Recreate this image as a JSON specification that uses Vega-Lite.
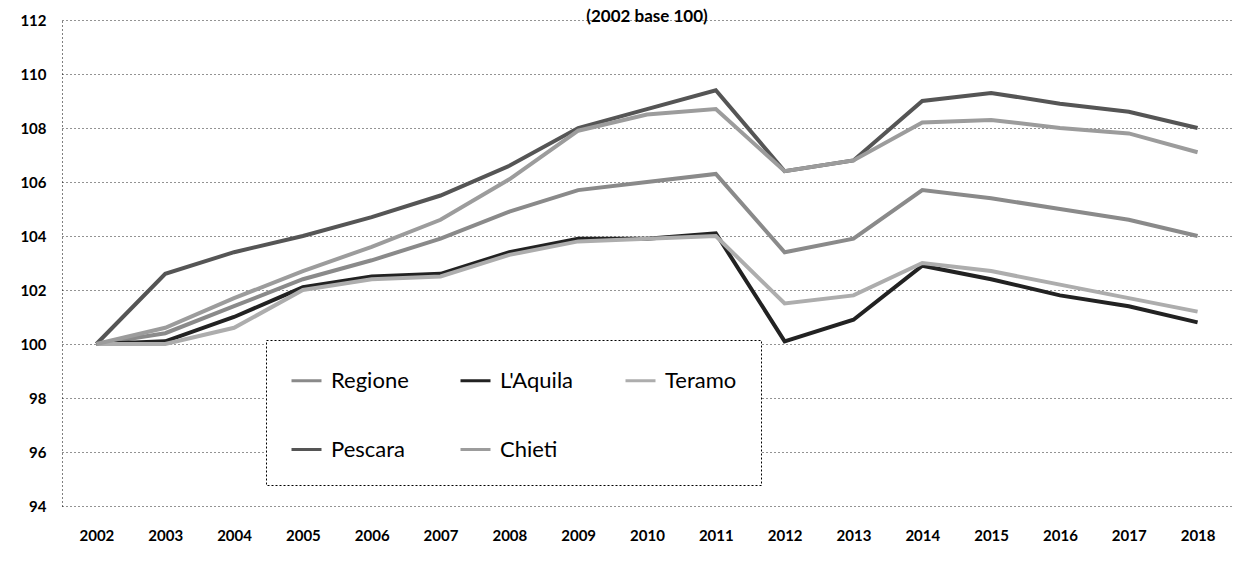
{
  "$schema": "https://vega.github.io/schema/vega-lite/v6.json",
  "width": 1170,
  "height": 486,
  "autosize": {"type": "none"},
  "padding": {"left": 62, "top": 20, "right": 7, "bottom": 56},
  "background": "white",
  "title": {
    "text": "(2002 base 100)",
    "font": "Lato",
    "fontSize": 17,
    "fontWeight": "bold",
    "color": "black",
    "anchor": "middle",
    "baseline": "bottom",
    "offset": 0,
    "dy": 30
  },
  "data": {
    "values": [
      {"year": "2002", "area": "Regione", "value": 100.0},
      {"year": "2003", "area": "Regione", "value": 100.4},
      {"year": "2004", "area": "Regione", "value": 101.4},
      {"year": "2005", "area": "Regione", "value": 102.4},
      {"year": "2006", "area": "Regione", "value": 103.1},
      {"year": "2007", "area": "Regione", "value": 103.9},
      {"year": "2008", "area": "Regione", "value": 104.9},
      {"year": "2009", "area": "Regione", "value": 105.7},
      {"year": "2010", "area": "Regione", "value": 106.0},
      {"year": "2011", "area": "Regione", "value": 106.3},
      {"year": "2012", "area": "Regione", "value": 103.4},
      {"year": "2013", "area": "Regione", "value": 103.9},
      {"year": "2014", "area": "Regione", "value": 105.7},
      {"year": "2015", "area": "Regione", "value": 105.4},
      {"year": "2016", "area": "Regione", "value": 105.0},
      {"year": "2017", "area": "Regione", "value": 104.6},
      {"year": "2018", "area": "Regione", "value": 104.0},
      {"year": "2002", "area": "L'Aquila", "value": 100.0},
      {"year": "2003", "area": "L'Aquila", "value": 100.1},
      {"year": "2004", "area": "L'Aquila", "value": 101.0},
      {"year": "2005", "area": "L'Aquila", "value": 102.1},
      {"year": "2006", "area": "L'Aquila", "value": 102.5},
      {"year": "2007", "area": "L'Aquila", "value": 102.6},
      {"year": "2008", "area": "L'Aquila", "value": 103.4},
      {"year": "2009", "area": "L'Aquila", "value": 103.9},
      {"year": "2010", "area": "L'Aquila", "value": 103.9},
      {"year": "2011", "area": "L'Aquila", "value": 104.1},
      {"year": "2012", "area": "L'Aquila", "value": 100.1},
      {"year": "2013", "area": "L'Aquila", "value": 100.9},
      {"year": "2014", "area": "L'Aquila", "value": 102.9},
      {"year": "2015", "area": "L'Aquila", "value": 102.4},
      {"year": "2016", "area": "L'Aquila", "value": 101.8},
      {"year": "2017", "area": "L'Aquila", "value": 101.4},
      {"year": "2018", "area": "L'Aquila", "value": 100.8},
      {"year": "2002", "area": "Teramo", "value": 100.0},
      {"year": "2003", "area": "Teramo", "value": 100.0},
      {"year": "2004", "area": "Teramo", "value": 100.6},
      {"year": "2005", "area": "Teramo", "value": 102.0},
      {"year": "2006", "area": "Teramo", "value": 102.4},
      {"year": "2007", "area": "Teramo", "value": 102.5},
      {"year": "2008", "area": "Teramo", "value": 103.3},
      {"year": "2009", "area": "Teramo", "value": 103.8},
      {"year": "2010", "area": "Teramo", "value": 103.9},
      {"year": "2011", "area": "Teramo", "value": 104.0},
      {"year": "2012", "area": "Teramo", "value": 101.5},
      {"year": "2013", "area": "Teramo", "value": 101.8},
      {"year": "2014", "area": "Teramo", "value": 103.0},
      {"year": "2015", "area": "Teramo", "value": 102.7},
      {"year": "2016", "area": "Teramo", "value": 102.2},
      {"year": "2017", "area": "Teramo", "value": 101.7},
      {"year": "2018", "area": "Teramo", "value": 101.2},
      {"year": "2002", "area": "Pescara", "value": 100.0},
      {"year": "2003", "area": "Pescara", "value": 102.6},
      {"year": "2004", "area": "Pescara", "value": 103.4},
      {"year": "2005", "area": "Pescara", "value": 104.0},
      {"year": "2006", "area": "Pescara", "value": 104.7},
      {"year": "2007", "area": "Pescara", "value": 105.5},
      {"year": "2008", "area": "Pescara", "value": 106.6},
      {"year": "2009", "area": "Pescara", "value": 108.0},
      {"year": "2010", "area": "Pescara", "value": 108.7},
      {"year": "2011", "area": "Pescara", "value": 109.4},
      {"year": "2012", "area": "Pescara", "value": 106.4},
      {"year": "2013", "area": "Pescara", "value": 106.8},
      {"year": "2014", "area": "Pescara", "value": 109.0},
      {"year": "2015", "area": "Pescara", "value": 109.3},
      {"year": "2016", "area": "Pescara", "value": 108.9},
      {"year": "2017", "area": "Pescara", "value": 108.6},
      {"year": "2018", "area": "Pescara", "value": 108.0},
      {"year": "2002", "area": "Chieti", "value": 100.0},
      {"year": "2003", "area": "Chieti", "value": 100.6},
      {"year": "2004", "area": "Chieti", "value": 101.7},
      {"year": "2005", "area": "Chieti", "value": 102.7},
      {"year": "2006", "area": "Chieti", "value": 103.6},
      {"year": "2007", "area": "Chieti", "value": 104.6},
      {"year": "2008", "area": "Chieti", "value": 106.1},
      {"year": "2009", "area": "Chieti", "value": 107.9},
      {"year": "2010", "area": "Chieti", "value": 108.5},
      {"year": "2011", "area": "Chieti", "value": 108.7},
      {"year": "2012", "area": "Chieti", "value": 106.4},
      {"year": "2013", "area": "Chieti", "value": 106.8},
      {"year": "2014", "area": "Chieti", "value": 108.2},
      {"year": "2015", "area": "Chieti", "value": 108.3},
      {"year": "2016", "area": "Chieti", "value": 108.0},
      {"year": "2017", "area": "Chieti", "value": 107.8},
      {"year": "2018", "area": "Chieti", "value": 107.1}
    ]
  },
  "mark": {"type": "line", "strokeWidth": 4},
  "encoding": {
    "x": {
      "field": "year",
      "type": "ordinal",
      "scale": {"type": "point", "padding": 0.5},
      "axis": {
        "title": null,
        "labelAngle": 0,
        "domain": false,
        "ticks": false,
        "tickSize": 0,
        "grid": false,
        "labelFont": "Lato",
        "labelFontWeight": "bold",
        "labelFontSize": 15,
        "labelColor": "black",
        "labelPadding": 22
      }
    },
    "y": {
      "field": "value",
      "type": "quantitative",
      "scale": {"domain": [94, 112], "nice": false, "zero": false},
      "axis": {
        "title": null,
        "values": [94, 96, 98, 100, 102, 104, 106, 108, 110, 112],
        "grid": true,
        "gridColor": "black",
        "gridDash": [1, 3],
        "gridWidth": 1,
        "gridOpacity": 0.85,
        "domain": true,
        "domainColor": "black",
        "domainDash": [1, 3],
        "domainWidth": 1,
        "ticks": false,
        "tickSize": 0,
        "labelFont": "Lato",
        "labelFontWeight": "bold",
        "labelFontSize": 15,
        "labelColor": "black",
        "labelPadding": 16
      }
    },
    "color": {
      "field": "area",
      "type": "nominal",
      "scale": {
        "domain": ["Regione", "L'Aquila", "Teramo", "Pescara", "Chieti"],
        "range": ["#8a8a8a", "#222222", "#adadad", "#555555", "#9c9c9c"]
      },
      "legend": {
        "title": null,
        "orient": "none",
        "legendX": 204,
        "legendY": 320,
        "direction": "horizontal",
        "columns": 3,
        "columnPadding": 45,
        "rowPadding": 41,
        "padding": 24,
        "fillColor": "white",
        "strokeColor": "black",
        "symbolType": "stroke",
        "symbolSize": 900,
        "symbolStrokeWidth": 3,
        "labelOffset": 8,
        "labelFont": "Lato",
        "labelFontSize": 22,
        "labelColor": "black",
        "labelLimit": 200,
        "encode": {
          "legend": {"update": {"strokeDash": {"value": [2, 2]}, "strokeWidth": {"value": 1}}}
        }
      }
    }
  },
  "config": {"view": {"stroke": null}, "font": "Lato"}
}
